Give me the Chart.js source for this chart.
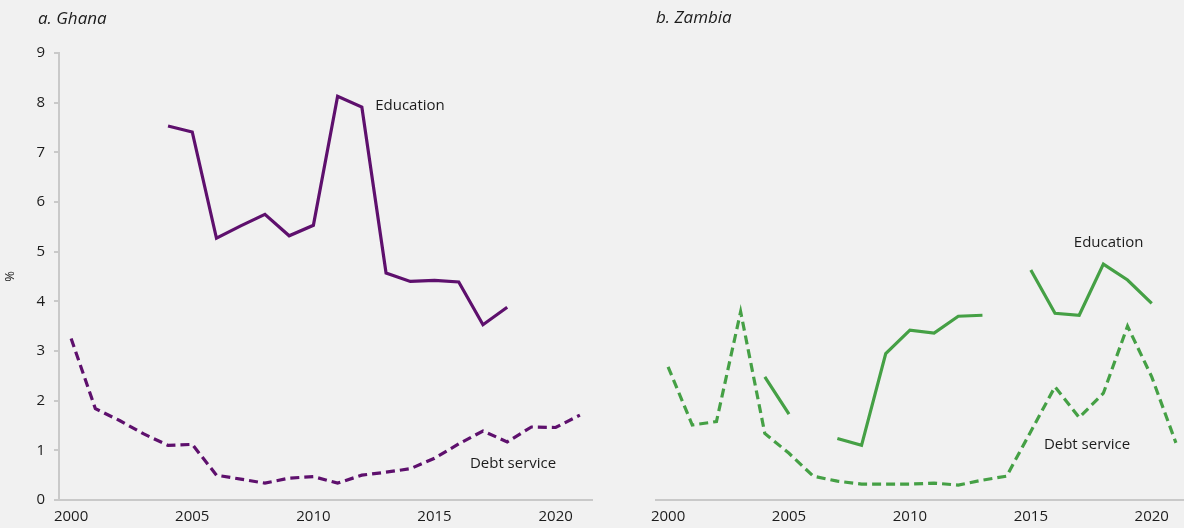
<!DOCTYPE html>
<html lang="en">
<head>
<meta charset="UTF-8">
<title>Ghana and Zambia: education vs debt service</title>
<script src="https://cdn.jsdelivr.net/npm/chart.js"></script>
<style>
  html, body { margin: 0; padding: 0; background: #f1f1f1; overflow: hidden; }
  .painel { position: absolute; top: 0; }
  #painelA { left: 0; }
  #painelB { left: 600px; }
</style>
</head>
<body>
<div class="painel" id="painelA"><canvas id="ghana" width="600" height="528"></canvas></div>
<div class="painel" id="painelB"><canvas id="zambia" width="600" height="528"></canvas></div>
<script>
// years 2000 - 2021
var anos = [];
for (var a = 2000; a <= 2021; a++) anos.push(String(a));

var ghanaEducacao = [null, null, null, null, 7.53, 7.41, 5.27, 5.52, 5.75, 5.32, 5.53, 8.13, 7.91, 4.57, 4.40, 4.42, 4.39, 3.53, 3.88, null, null, null];
var ghanaDivida = [3.25, 1.84, 1.6, 1.33, 1.1, 1.12, 0.5, 0.42, 0.34, 0.44, 0.47, 0.34, 0.5, 0.56, 0.63, 0.84, 1.13, 1.39, 1.17, 1.47, 1.46, 1.71];

var zambiaEducacao = [null, null, null, null, 2.48, 1.73, null, 1.24, 1.10, 2.95, 3.42, 3.36, 3.70, 3.72, null, 4.63, 3.76, 3.72, 4.75, 4.43, 3.96, null];
var zambiaDivida = [2.68, 1.51, 1.58, 3.79, 1.34, 0.94, 0.48, 0.38, 0.32, 0.32, 0.32, 0.34, 0.30, 0.40, 0.48, 1.38, 2.28, 1.66, 2.15, 3.50, 2.48, 1.15];

var roxo = '#5e106d';
var verde = '#45a045';
var corEixo = '#c9c9c9';
var corTexto = '#1c1c1c';
var fonte = "'Open Sans', 'DejaVu Sans', sans-serif";

// label anchors: [text, year index, value]
var rotulosGhana = [['Education', 12.55, 7.93], ['Debt service', 16.46, 0.74]];
var rotulosZambia = [['Education', 16.78, 5.17], ['Debt service', 15.54, 1.11]];

function pluginTextos(titulo, tx, ty, rotulos) {
    return {
        id: 'textos',
        afterDatasetsDraw(chart) {
            var ctx = chart.ctx;
            var x = chart.scales.x, y = chart.scales.y;
            ctx.save();
            ctx.fillStyle = corTexto;
            ctx.textBaseline = 'middle';
            ctx.textAlign = 'left';
            ctx.font = 'italic 17px ' + fonte;
            ctx.fillText(titulo, tx, ty);
            ctx.font = '15px ' + fonte;
            rotulos.forEach(function (r) {
                ctx.fillText(r[0], x.getPixelForValue(r[1]), y.getPixelForValue(r[2]));
            });
            ctx.restore();
        }
    };
}

function serie(dados, cor, tracejado) {
    return {
        data: dados,
        borderColor: cor,
        borderWidth: 3.2,
        borderDash: tracejado ? [9, 5] : [],
        pointRadius: 0,
        tension: 0,
        spanGaps: false,
        borderCapStyle: 'butt',
        borderJoinStyle: 'miter'
    };
}

function escalaX() {
    return {
        type: 'category',
        offset: true,
        grid: { drawOnChartArea: false, drawTicks: false },
        border: { color: corEixo, width: 2 },
        ticks: {
            autoSkip: false,
            maxRotation: 0,
            padding: 8,
            color: corTexto,
            font: { family: fonte, size: 15 },
            callback: function (v) {
                var l = this.getLabelForValue(v);
                return Number(l) % 5 === 0 ? l : '';
            }
        },
        afterFit: function (s) { s.height = 28; }
    };
}

function opcoes(mostrarY, larguraY, pad) {
    return {
        responsive: false,
        animation: false,
        layout: { padding: pad },
        plugins: { legend: { display: false }, tooltip: { enabled: false } },
        scales: {
            x: escalaX(),
            y: {
                display: mostrarY,
                min: 0,
                max: 9,
                grid: { drawOnChartArea: false, drawTicks: true, tickLength: 5, color: corEixo, lineWidth: 2 },
                border: { color: corEixo, width: 2 },
                ticks: { stepSize: 1, padding: 9, color: corTexto, font: { family: fonte, size: 15 } },
                title: { display: true, text: '%', color: corTexto, font: { family: fonte, size: 13 }, padding: { top: 2, bottom: 0 } },
                afterFit: function (s) { s.width = larguraY; }
            }
        }
    };
}

new Chart(document.getElementById('ghana'), {
    type: 'line',
    data: {
        labels: anos,
        datasets: [serie(ghanaEducacao, roxo, false), serie(ghanaDivida, roxo, true)]
    },
    options: opcoes(true, 59, { top: 53, right: 8, left: 0, bottom: 0 }),
    plugins: [pluginTextos('a. Ghana', 38, 19, rotulosGhana)]
});

new Chart(document.getElementById('zambia'), {
    type: 'line',
    data: {
        labels: anos,
        datasets: [serie(zambiaEducacao, verde, false), serie(zambiaDivida, verde, true)]
    },
    options: opcoes(false, 0, { top: 53, right: 12, left: 56, bottom: 0 }),
    plugins: [pluginTextos('b. Zambia', 56, 18, rotulosZambia)]
});
</script>
</body>
</html>
